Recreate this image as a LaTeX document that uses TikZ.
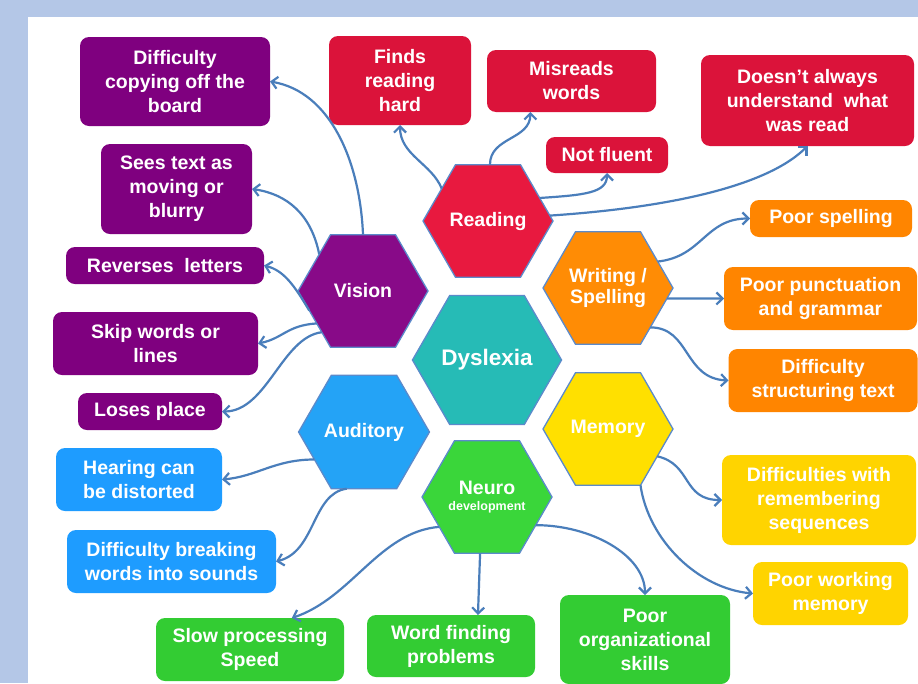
\documentclass[tikz,border=0pt]{standalone}
\usepackage{fontspec}
\setmainfont{Liberation Sans}
\usetikzlibrary{shapes.geometric,arrows.meta}

\definecolor{bgblue}{HTML}{B4C7E7}
\definecolor{linkblue}{HTML}{4A7EBB}
\definecolor{hexline}{HTML}{5B8ACB}
\definecolor{readhex}{HTML}{E8193F}
\definecolor{readbox}{HTML}{DB133A}
\definecolor{vishex}{HTML}{880A88}
\definecolor{visbox}{HTML}{7F007F}
\definecolor{dyshex}{HTML}{26BBB6}
\definecolor{writhex}{HTML}{FF8C05}
\definecolor{writbox}{HTML}{FF8500}
\definecolor{memhex}{HTML}{FFE000}
\definecolor{membox}{HTML}{FFD400}
\definecolor{audhex}{HTML}{24A3F6}
\definecolor{audbox}{HTML}{1E9CFF}
\definecolor{neurhex}{HTML}{3AD63A}
\definecolor{neurbox}{HTML}{33CC33}

\begin{document}
\begin{tikzpicture}[x=1pt,y=-1pt]

    \tikzset{
      hexa/.style={
        regular polygon,
        regular polygon sides=6,
        minimum size=130pt,
        inner sep=0pt,
        outer sep=0pt,
        draw=hexline,
        line width=1.3pt,
        text=white,
        font=\bfseries\fontsize{19.5}{21}\selectfont,
        align=center,
      },
      trait/.style={
        rectangle,
        rounded corners=9pt,
        inner sep=0pt,
        outer sep=0pt,
        text=white,
        font=\bfseries\fontsize{19.5}{24}\selectfont,
        align=center,
      },
      link/.style={
        draw=linkblue,
        line width=2.2pt,
        -{Straight Barb[length=6pt,width=12pt]},
      },
    }
    \fill[bgblue] (0,0) rectangle (918,683);
    \fill[white] (28,17) rectangle (918,683);
    \useasboundingbox (0,0) rectangle (918,683);

	\node[hexa, fill=readhex] (reading) at (488,221) {Reading};
	\node[hexa, fill=vishex] (vision) at (363,291) {Vision};
	\node[hexa, fill=dyshex, minimum size=144pt, font=\bfseries\fontsize{22.5}{24}\selectfont] (dyslexia) at (487,360) {Dyslexia};
	\node[hexa, fill=writhex] (writing) at (608,288) {Writing /\\Spelling};
	\node[hexa, fill=memhex] (memory) at (608,429) {Memory};
	\node[hexa, fill=audhex] (auditory) at (364,432) {Auditory};
	\node[hexa, fill=neurhex] (neuro) at (487,497) {Neuro\\[-5pt]{\fontsize{12.5}{15}\selectfont development}};

	\node[trait, fill=visbox, minimum width=190pt, minimum height=89pt] (copyboard) at (175,81.5) {Difficulty\\copying off the\\board};
	\node[trait, fill=visbox, minimum width=151pt, minimum height=90pt] (seestext) at (176.5,189) {Sees text as\\moving or\\blurry};
	\node[trait, fill=visbox, minimum width=198pt, minimum height=37pt] (reverses) at (165,265.5) {Reverses\ \ letters};
	\node[trait, fill=visbox, minimum width=205pt, minimum height=63pt] (skipwords) at (155.5,343.5) {Skip words or\\lines};
	\node[trait, fill=visbox, minimum width=144pt, minimum height=37pt] (losesplace) at (150,411.5) {Loses place};

	\node[trait, fill=audbox, minimum width=166pt, minimum height=63pt] (hearing) at (139,479.5) {Hearing can\\be distorted};
	\node[trait, fill=audbox, minimum width=209pt, minimum height=63pt] (breaking) at (171.5,561.5) {Difficulty breaking\\words into sounds};

	\node[trait, fill=neurbox, minimum width=188pt, minimum height=63pt] (slowspeed) at (250,649.5) {Slow processing\\Speed};
	\node[trait, fill=neurbox, minimum width=168pt, minimum height=62pt] (wordfind) at (451,646) {Word finding\\problems};
	\node[trait, fill=neurbox, minimum width=170pt, minimum height=89pt] (orgskills) at (645,639.5) {Poor\\organizational\\skills};

	\node[trait, fill=membox, minimum width=155pt, minimum height=63pt] (workingmem) at (830.5,593.5) {Poor working\\memory};
	\node[trait, fill=membox, minimum width=194pt, minimum height=90pt] (sequences) at (819,500) {Difficulties with\\remembering\\sequences};

	\node[trait, fill=writbox, minimum width=189pt, minimum height=63pt] (structuring) at (823,380.5) {Difficulty\\structuring text};
	\node[trait, fill=writbox, minimum width=193pt, minimum height=63pt] (punctuation) at (820.5,298.5) {Poor punctuation\\and grammar};
	\node[trait, fill=writbox, minimum width=162pt, minimum height=37pt] (poorspelling) at (831,218.5) {Poor spelling};

	\node[trait, fill=readbox, minimum width=213pt, minimum height=91pt] (doesnt) at (807.5,100.5) {Doesn’t always\\understand\ \ what\\was read};
	\node[trait, fill=readbox, minimum width=122pt, minimum height=36pt] (notfluent) at (607,155) {Not fluent};
	\node[trait, fill=readbox, minimum width=169pt, minimum height=62pt] (misreads) at (571.5,81) {Misreads\\words};
	\node[trait, fill=readbox, minimum width=142pt, minimum height=89pt] (findshard) at (400,80.5) {Finds\\reading\\hard};

	\draw[link] (vision.north) .. controls +(-3,-74) and +(60,10) .. (copyboard.east);
	\draw[link] (vision.140) .. controls +(-8,-40) and +(35,5) .. (seestext.east);
	\draw[link] (vision.200) .. controls +(-15,-25) and +(20,5) .. (reverses.east);
	\draw[link] (vision.215) .. controls +(-30,2) and +(25,-5) .. (skipwords.east);
	\draw[link] (vision.225) .. controls +(-40,5) and +(45,0) .. (losesplace.east);

	\draw[link] (auditory.209) .. controls +(-40,0) and +(35,-3) .. (hearing.east);
	\draw[link] (auditory.253) .. controls +(-35,5) and +(40,-10) .. (breaking.east);

	\draw[link] (neuro.212) .. controls +(-60,5) and +(60,-20) .. (slowspeed.37);
	\draw[link] (neuro.263) -- (wordfind.49);
	\draw[link] (neuro.330) .. controls +(55,0) and +(0,-40) .. (orgskills.north);

	\draw[link] (memory.331) .. controls +(35,8) and +(-40,0) .. (sequences.west);
	\draw[link] (memory.300) .. controls +(8,55) and +(-55,-5) .. (workingmem.west);

	\draw[link] (writing.28) .. controls +(45,-5) and +(-45,0) .. (poorspelling.west);
	\draw[link] (writing.350) -- (punctuation.west);
	\draw[link] (writing.317) .. controls +(40,0) and +(-45,-2) .. (structuring.west);

	\draw[link] (reading.5) .. controls +(120,-8) and +(-40,40) .. (doesnt.south);
	\draw[link] (reading.24) .. controls +(45,-3) and +(0,20) .. (notfluent.south);
	\draw[link] (reading.88) .. controls +(0,-28) and +(0,28) .. (misreads.217);
	\draw[link] (reading.145) .. controls +(-10,-25) and +(0,30) .. (findshard.south);

\end{tikzpicture}
\end{document}
